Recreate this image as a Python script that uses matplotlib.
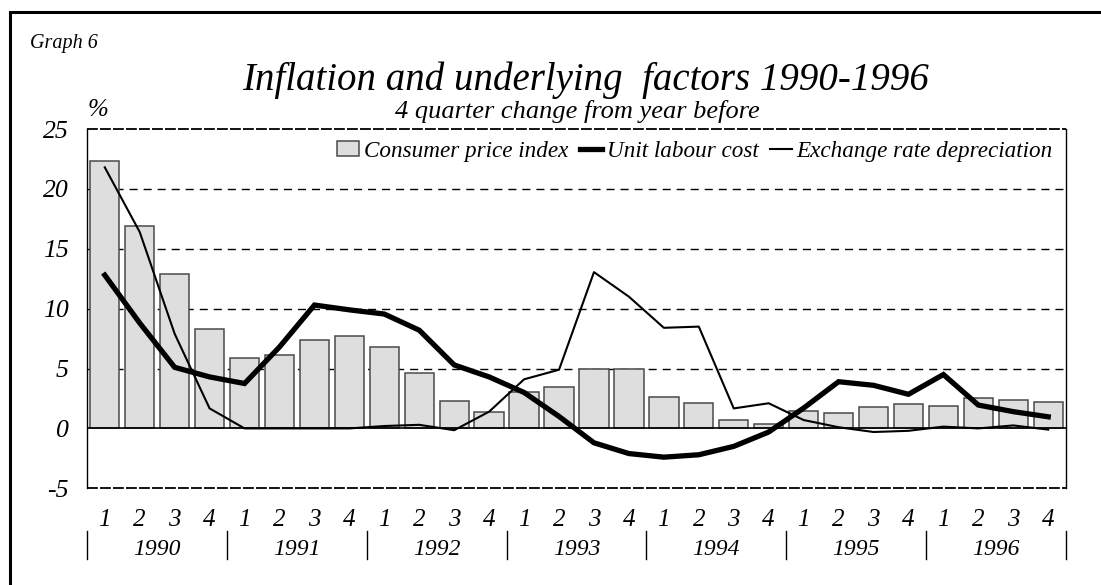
import matplotlib
matplotlib.use("Agg")
import matplotlib.pyplot as plt
import matplotlib.transforms as mtransforms
from matplotlib.patches import Rectangle
import numpy as np

# ---- data ----
years = ["1990", "1991", "1992", "1993", "1994", "1995", "1996"]
quarters = ["1", "2", "3", "4"]
cpi = [22.3, 16.9, 12.9, 8.3, 5.9, 6.1, 7.4, 7.7, 6.8, 4.6, 2.3, 1.4, 3.0, 3.45,
       5.0, 5.0, 2.6, 2.1, 0.7, 0.4, 1.45, 1.3, 1.8, 2.0, 1.9, 2.55, 2.4, 2.2]
ulc = [12.8, 8.8, 5.1, 4.3, 3.75, 6.8, 10.3, 9.9, 9.55, 8.2, 5.3, 4.3, 3.0, 1.0,
       -1.2, -2.1, -2.4, -2.2, -1.5, -0.3, 1.7, 3.9, 3.6, 2.85, 4.5, 1.95, 1.4, 0.97]
er = [21.8, 16.4, 7.9, 1.67, 0.0, 0.0, 0.0, 0.0, 0.2, 0.3, -0.15, 1.4, 4.1, 4.9,
      13.05, 11.0, 8.4, 8.5, 1.67, 2.1, 0.7, 0.1, -0.3, -0.2, 0.15, 0.0, 0.25, -0.1]
yticks = [-5, 0, 5, 10, 15, 20, 25]

plt.rcParams['font.family'] = ['Liberation Serif', 'DejaVu Serif']
plt.rcParams['font.style'] = 'italic'

W, H = 1101, 585
fig = plt.figure(figsize=(W / 100, H / 100), dpi=100)
fig.patch.set_facecolor('white')

def fx(px):
    return px / W

def fy(py):
    return 1 - py / H

left, right, top, bottom = 87.3, 1065.7, 129.0, 488.3
ax = fig.add_axes([fx(left), fy(bottom), fx(right - left), (bottom - top) / H])

n = len(cpi)
x = np.arange(n)

bars = ax.bar(x, cpi, width=0.84, color='#dedede', edgecolor='#4a4a4a', linewidth=1.1,
              zorder=2, label='Consumer price index')
l_ulc, = ax.plot(x, ulc, color='black', linewidth=3.8, solid_joinstyle='miter', zorder=4,
                 label='Unit labour cost')
l_er, = ax.plot(x, er, color='black', linewidth=1.5, zorder=3,
                label='Exchange rate depreciation')

ax.set_xlim(-0.5, n - 0.5)
ax.set_ylim(-5, 25)

# grid lines
for v in [5, 10, 15, 20]:
    ax.axhline(v, color='black', linewidth=1.0, dashes=(5.8, 4.3), zorder=1)
ax.axhline(0, color='black', linewidth=1.2, zorder=3)
ax.axhline(25, color='black', linewidth=1.3, dashes=(6, 1.2), zorder=5, clip_on=False)
ax.axhline(-5, color='black', linewidth=1.3, dashes=(6, 1.2), zorder=5, clip_on=False)

for s in ['top', 'bottom']:
    ax.spines[s].set_visible(False)
for s in ['left', 'right']:
    ax.spines[s].set_linewidth(1.0)
    ax.spines[s].set_color('black')

ax.set_yticks(yticks)
ax.set_yticklabels([str(v) for v in yticks], fontsize=18.5, style='italic')
ax.tick_params(axis='y', length=0, pad=13.5)

ax.set_xticks(x)
ax.set_xticklabels(quarters * len(years), fontsize=18, style='italic')
ax.tick_params(axis='x', length=0, pad=15)

trans = mtransforms.blended_transform_factory(ax.transData, ax.transAxes)
hpx = bottom - top
sep_y0 = (bottom - 531) / hpx
sep_y1 = (bottom - 559) / hpx
for k in range(len(years) + 1):
    xs = -0.5 + 4 * k
    ax.plot([xs, xs], [sep_y0, sep_y1], color='black', linewidth=1.0,
            transform=trans, clip_on=False)
year_base = (bottom - 555) / hpx
for k, yr in enumerate(years):
    ax.text(1.5 + 4 * k, year_base, yr, transform=trans, ha='center',
            va='baseline', fontsize=17, style='italic')

leg = ax.legend(handles=[bars, l_ulc, l_er],
                labels=['Consumer price index', 'Unit labour cost',
                        'Exchange rate depreciation'],
                loc='upper right', bbox_to_anchor=(fx(1053), fy(141)),
                bbox_transform=fig.transFigure, ncol=3, frameon=False,
                fontsize=16.7, handlelength=0.95, handleheight=0.6,
                handletextpad=0.2, columnspacing=0.5, borderpad=0,
                borderaxespad=0)
for t in leg.get_texts():
    t.set_style('italic')

fig.text(fx(30), fy(48), 'Graph 6', fontsize=14.5, style='italic',
         ha='left', va='baseline')
fig.text(fx(585.5), fy(90), 'Inflation and underlying  factors 1990-1996',
         fontsize=28, style='italic', ha='center', va='baseline')
fig.text(fx(577), fy(118), '4 quarter change from year before',
         fontsize=19, style='italic', ha='center', va='baseline')
fig.text(fx(88), fy(116), '%', fontsize=18, style='italic',
         ha='left', va='baseline')

frame = Rectangle((fx(9.5), fy(1200)), 2.0, fy(12) - fy(1200),
                  transform=fig.transFigure, fill=False, edgecolor='black',
                  linewidth=2.2, clip_on=True)
fig.patches.append(frame)

fig.savefig('out.png', dpi=100, facecolor='white')
